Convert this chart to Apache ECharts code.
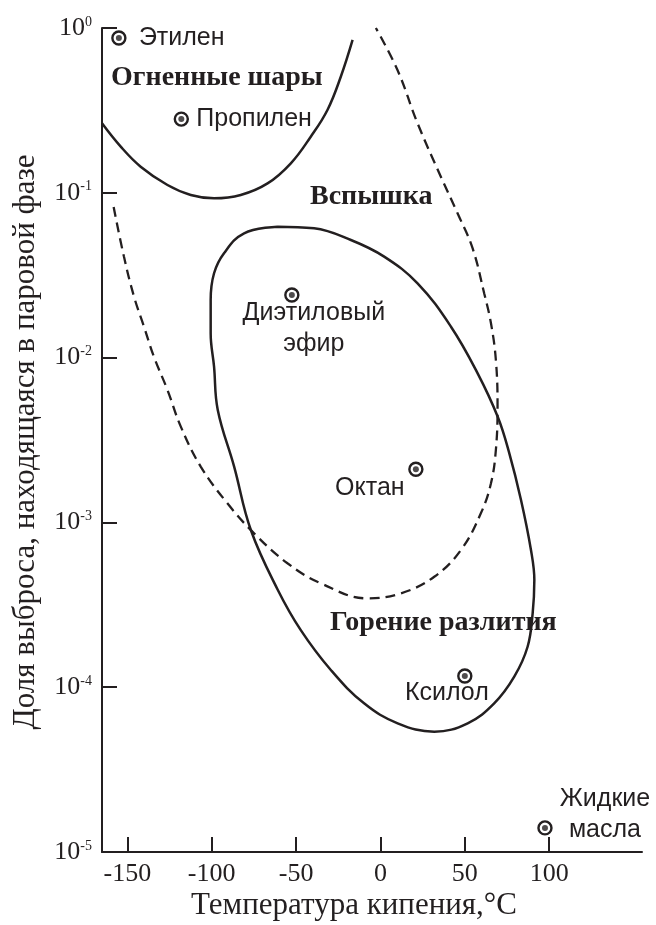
<!DOCTYPE html>
<html>
<head>
<meta charset="utf-8">
<script src="https://cdn.jsdelivr.net/npm/echarts@6/dist/echarts.min.js"></script>
<style>html,body{margin:0;padding:0;background:#fff}#c{width:656px;height:925px}</style>
</head>
<body>
<div id="c"></div>
<script>
// ---- data ----
const xTickValues = [-150, -100, -50, 0, 50, 100];

const compounds = ['Этилен', 'Пропилен', 'Диэтиловый\nэфир', 'Октан', 'Ксилол', 'Жидкие\nмасла'];
const boilT = [-155, -118, -52.5, 21, 50, 97.5];
const vapFrac = [0.87, 0.28, 0.024, 0.0021, 0.000117, 0.000014];

// Fireball boundary (solid U-curve)
const fireT = [-165, -153.9, -142.1, -126.2, -112.4, -98.6, -82.8, -66.9, -53.1, -41.3, -31.4, -23.5, -16.5];
const fireF = [0.264, 0.1905, 0.144, 0.1115, 0.097, 0.0926, 0.097, 0.114, 0.151, 0.219, 0.318, 0.506, 0.846];

// Flash boundary (dashed)
const flashT = [-158.1, -152.0, -146.0, -140.1, -134.2, -126.2, -118.3, -106.5, -90.7, -74.9, -55.1, -35.3, -7.6, 12.1, 31.9, 47.7, 59.5, 65.5, 68.4, 69.4, 68.4, 65.5, 61.5, 54.6, 45.7, 35.8, 22.0, 10.1, -2.7];
const flashF = [0.082, 0.041, 0.0234, 0.0154, 0.0101, 0.00636, 0.00381, 0.00218, 0.001306, 0.000859, 0.000565, 0.000427, 0.000346, 0.000371, 0.000468, 0.00068, 0.001135, 0.001727, 0.00275, 0.00504, 0.00967, 0.01615, 0.0245, 0.0461, 0.0751, 0.1252, 0.264, 0.556, 1.0];

// Pool fire boundary (closed solid loop)
const poolT = [-61.0, -39.3, -17.5, 2.2, 22.0, 41.8, 57.6, 69.5, 76.1, 83.3, 89.2, 91.2, 90.2, 87.2, 79.3, 67.4, 51.7, 31.9, 10.2, -9.7, -29.4, -47.2, -60.8, -76.8, -86.7, -96.4, -98.6, -100.6, -100.6, -98.6, -92.7, -80.8, -61.0];
const poolF = [0.0623, 0.0609, 0.0517, 0.041, 0.0282, 0.0154, 0.00803, 0.00438, 0.00269, 0.001368, 0.00068, 0.000447, 0.000281, 0.000176, 0.0001159, 0.0000798, 0.0000604, 0.0000537, 0.0000604, 0.0000798, 0.0001272, 0.000222, 0.000389, 0.000899, 0.00218, 0.00481, 0.00881, 0.01404, 0.0224, 0.0325, 0.043, 0.0568, 0.0623];

const regionNames = ['Огненные шары', 'Вспышка', 'Горение разлития'];
const xTitle = 'Температура кипения,°С';
const yTitle = 'Доля выброса, находящаяся в паровой фазе';

// ---- styles ----
const INK = '#231f20';
const SERIF = '"Liberation Serif", "Times New Roman", serif';
const SANS = '"Liberation Sans", Arial, sans-serif';

const labelLayouts = [
  { align: 'left', offset: [20, 0] },
  { align: 'left', offset: [15, 0] },
  { align: 'center', offset: [22, 34] },
  { align: 'center', offset: [-46, 19] },
  { align: 'center', offset: [-18, 17] },
  { align: 'center', offset: [60, -13] }
];

const zip = (a, b) => a.map((v, i) => [v, b[i]]);

const chart = echarts.init(document.getElementById('c'), null, { renderer: 'canvas' });

const option = {
  backgroundColor: '#fff',
  animation: false,
  grid: { left: 102, right: 14, top: 28, bottom: 73, containLabel: false, outerBoundsMode: 'none' },
  xAxis: {
    type: 'value', min: -165, max: 155,
    axisLine: { show: true, onZero: false, lineStyle: { color: INK, width: 2 } },
    axisTick: { show: true, inside: true, length: 15, customValues: xTickValues, lineStyle: { color: INK, width: 2 } },
    axisLabel: { show: true, customValues: xTickValues, margin: 9, color: INK, fontSize: 26, fontFamily: SERIF,
      formatter: v => String(v) },
    splitLine: { show: false }
  },
  yAxis: {
    type: 'log', logBase: 10, min: 0.00001, max: 1,
    axisLine: { show: true, onZero: false, lineStyle: { color: INK, width: 2 } },
    axisTick: { show: true, inside: true, length: 15, lineStyle: { color: INK, width: 2 } },
    axisLabel: {
      show: true, margin: 10, color: INK,
      formatter: v => '{b|10}{s|' + Math.round(Math.log10(v)) + '}',
      rich: {
        b: { fontSize: 26, fontFamily: SERIF, color: INK },
        s: { fontSize: 14, fontFamily: SERIF, color: INK, verticalAlign: 'top' }
      }
    },
    splitLine: { show: false },
    minorTick: { show: false }
  },
  series: [
    { type: 'line', data: zip(fireT, fireF), smooth: 0.4, symbol: 'none',
      lineStyle: { color: INK, width: 2.5 }, z: 3 },
    { type: 'line', data: zip(flashT, flashF), smooth: 0.4, symbol: 'none',
      lineStyle: { color: INK, width: 2.3, type: [10, 6] }, z: 3 },
    { type: 'line', data: zip(poolT, poolF), smooth: 0.4, symbol: 'none',
      lineStyle: { color: INK, width: 2.5 }, z: 3 },
    { type: 'scatter', symbol: 'circle', symbolSize: 13,
      itemStyle: { color: '#fff', borderColor: INK, borderWidth: 2.4, opacity: 1 },
      data: compounds.map((n, i) => ({
        value: [boilT[i], vapFrac[i]], name: n,
        label: {
          show: true, formatter: '{b}', position: 'inside',
          align: labelLayouts[i].align, verticalAlign: 'middle',
          offset: labelLayouts[i].offset,
          color: INK, fontSize: 25, fontFamily: SANS, lineHeight: 31
        }
      })), z: 5 },
    { type: 'scatter', symbol: 'circle', symbolSize: 6,
      itemStyle: { color: INK },
      data: zip(boilT, vapFrac), z: 6 }
  ],
  graphic: [
    { type: 'text', x: 111, y: 78, style: { text: regionNames[0], font: 'bold 28px ' + SERIF, fill: INK, textAlign: 'left', textVerticalAlign: 'middle' } },
    { type: 'text', x: 310, y: 197, style: { text: regionNames[1], font: 'bold 28px ' + SERIF, fill: INK, textAlign: 'left', textVerticalAlign: 'middle' } },
    { type: 'text', x: 330, y: 623, style: { text: regionNames[2], font: 'bold 28px ' + SERIF, fill: INK, textAlign: 'left', textVerticalAlign: 'middle' } },
    { type: 'text', x: 354, y: 906, style: { text: xTitle, font: '31px ' + SERIF, fill: INK, textAlign: 'center', textVerticalAlign: 'middle' } },
    { type: 'text', x: 26, y: 442, rotation: Math.PI / 2, style: { text: yTitle, font: '31px ' + SERIF, fill: INK, textAlign: 'center', textVerticalAlign: 'middle' } }
  ]
};
chart.setOption(option);
</script>
</body>
</html>
